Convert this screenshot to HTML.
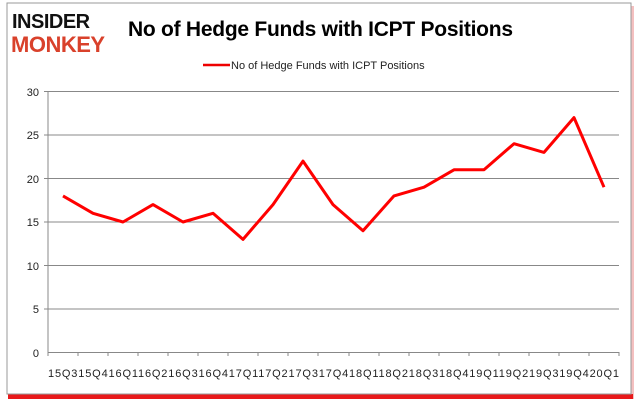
<!DOCTYPE html>
<html><head><style>
body{margin:0;background:#fff;width:637px;height:408px;overflow:hidden;font-family:"Liberation Sans",sans-serif}
</style></head><body>
<svg width="637" height="408" xmlns="http://www.w3.org/2000/svg" font-family="Liberation Sans, sans-serif">
<rect x="9" y="6" width="625" height="393" fill="#f4c0c0"/>
<rect x="8" y="394" width="625" height="5" fill="#e8191a"/>
<rect x="7" y="3" width="624" height="391" fill="#fff" stroke="#999" stroke-width="1"/>
<text x="12" y="28" font-size="20" font-weight="bold" fill="#111" letter-spacing="-0.5">INSIDER</text>
<text x="11" y="52" font-size="22" font-weight="bold" fill="#d9412b" letter-spacing="-0.5">MONKEY</text>
<text x="128" y="36" font-size="21" font-weight="bold" fill="#000" textLength="385">No of Hedge Funds with ICPT Positions</text>
<line x1="203" y1="65" x2="230" y2="65" stroke="#e00" stroke-width="2.5"/>
<text x="231" y="69" font-size="11" fill="#222">No of Hedge Funds with ICPT Positions</text>
<g stroke="#888" stroke-width="1">
<line x1="48" y1="91.5" x2="619" y2="91.5"/><line x1="48" y1="135" x2="619" y2="135"/>
<line x1="48" y1="178.5" x2="619" y2="178.5"/><line x1="48" y1="222" x2="619" y2="222"/>
<line x1="48" y1="265.5" x2="619" y2="265.5"/><line x1="48" y1="309" x2="619" y2="309"/>
<line x1="48" y1="352.5" x2="619" y2="352.5"/><line x1="48" y1="91" x2="48" y2="356"/>
<line x1="44" y1="91.5" x2="48" y2="91.5"/><line x1="44" y1="135" x2="48" y2="135"/><line x1="44" y1="178.5" x2="48" y2="178.5"/><line x1="44" y1="222" x2="48" y2="222"/><line x1="44" y1="265.5" x2="48" y2="265.5"/><line x1="44" y1="309" x2="48" y2="309"/>
</g>
<g stroke="#888" id="t"></g>
<g font-size="11" fill="#222" text-anchor="end">
<text x="39" y="96">30</text><text x="39" y="139">25</text><text x="39" y="183">20</text><text x="39" y="226">15</text><text x="39" y="270">10</text><text x="39" y="313">5</text><text x="39" y="357">0</text>
</g>
<text x="48" y="377" font-size="11" fill="#222" textLength="571">15Q315Q416Q116Q216Q316Q417Q117Q217Q317Q418Q118Q218Q318Q419Q119Q219Q319Q420Q1</text>
<g stroke="#888">
<line x1="78" y1="352" x2="78" y2="356"/><line x1="108" y1="352" x2="108" y2="356"/><line x1="138" y1="352" x2="138" y2="356"/><line x1="168" y1="352" x2="168" y2="356"/><line x1="198" y1="352" x2="198" y2="356"/><line x1="228" y1="352" x2="228" y2="356"/><line x1="258" y1="352" x2="258" y2="356"/><line x1="288" y1="352" x2="288" y2="356"/><line x1="318" y1="352" x2="318" y2="356"/><line x1="349" y1="352" x2="349" y2="356"/><line x1="379" y1="352" x2="379" y2="356"/><line x1="409" y1="352" x2="409" y2="356"/><line x1="439" y1="352" x2="439" y2="356"/><line x1="469" y1="352" x2="469" y2="356"/><line x1="499" y1="352" x2="499" y2="356"/><line x1="529" y1="352" x2="529" y2="356"/><line x1="559" y1="352" x2="559" y2="356"/><line x1="589" y1="352" x2="589" y2="356"/><line x1="619" y1="352" x2="619" y2="356"/>
</g>
<polyline fill="none" stroke="#f00" stroke-width="3" stroke-linejoin="round" points="63,195.9 93,213.3 123,222 153,204.6 183,222 213,213.3 243,239.4 273,204.6 303,161.1 333,204.6 363,230.7 394,195.9 424,187.2 454,169.8 484,169.8 514,143.7 544,152.4 574,117.6 604,187.2"/>
</svg>
</body></html>
